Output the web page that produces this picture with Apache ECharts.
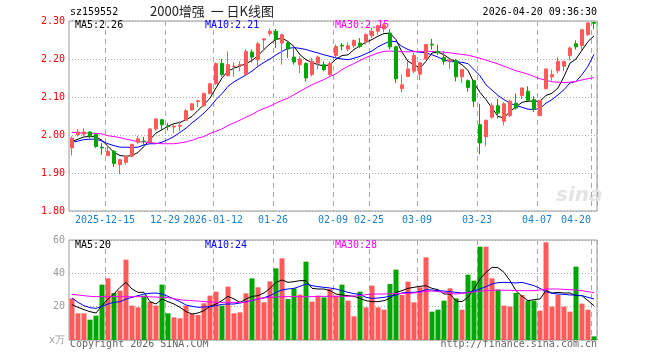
<!DOCTYPE html>
<html><head><meta charset="utf-8">
<script src="https://cdn.jsdelivr.net/npm/echarts/dist/echarts.min.js"></script>
<style>html,body{margin:0;padding:0;background:#fff}#c{width:660px;height:360px}</style>
</head><body><div id="c"></div>
<script>
const categories = [
'2025-12-05','2025-12-08','2025-12-09','2025-12-10','2025-12-11','2025-12-12',
'2025-12-15','2025-12-16','2025-12-17','2025-12-18','2025-12-19',
'2025-12-22','2025-12-23','2025-12-24','2025-12-25','2025-12-26',
'2025-12-29','2025-12-30','2025-12-31',
'2026-01-05','2026-01-06','2026-01-07','2026-01-08','2026-01-09',
'2026-01-12','2026-01-13','2026-01-14','2026-01-15','2026-01-16',
'2026-01-19','2026-01-20','2026-01-21','2026-01-22','2026-01-23',
'2026-01-26','2026-01-27','2026-01-28','2026-01-29','2026-01-30',
'2026-02-02','2026-02-03','2026-02-04','2026-02-05','2026-02-06',
'2026-02-09','2026-02-10','2026-02-11','2026-02-12','2026-02-13',
'2026-02-24','2026-02-25','2026-02-26','2026-02-27',
'2026-03-02','2026-03-03','2026-03-04','2026-03-05','2026-03-06',
'2026-03-09','2026-03-10','2026-03-11','2026-03-12','2026-03-13',
'2026-03-16','2026-03-17','2026-03-18','2026-03-19','2026-03-20',
'2026-03-23','2026-03-24','2026-03-25','2026-03-26','2026-03-27',
'2026-03-30','2026-03-31','2026-04-01','2026-04-02','2026-04-03',
'2026-04-07','2026-04-08','2026-04-09','2026-04-10',
'2026-04-13','2026-04-14','2026-04-15','2026-04-16','2026-04-17',
'2026-04-20'];

const tickDates  = ['2025-12-15','2025-12-29','2026-01-12','2026-01-26','2026-02-09','2026-02-25','2026-03-09','2026-03-23','2026-04-07','2026-04-20'];
const tickLabels = ['2025-12-15','12-29','2026-01-12','01-26','02-09','02-25','03-09','03-23','04-07','04-20'];

const priceTicks = [1.8, 2.3, 0.1];
const volTicks = [0, 60, 20];

const open = [1.966,2.001,2.002,2.008,2.001,1.968,1.946,1.957,1.922,1.928,
1.944,1.981,1.984,1.981,2.016,2.040,2.024,2.021,2.023,2.039,
2.066,2.088,2.077,2.109,2.135,2.188,2.156,2.180,2.183,2.159,
2.218,2.198,2.250,2.267,2.273,2.242,2.242,2.205,2.185,2.188,
2.159,2.189,2.185,2.159,2.209,2.236,2.226,2.235,2.242,2.246,
2.261,2.273,2.279,2.268,2.232,2.122,2.154,2.168,2.160,2.200,
2.239,2.220,2.204,2.194,2.196,2.153,2.143,2.143,2.027,1.995,
2.047,2.077,2.036,2.051,2.084,2.104,2.115,2.093,2.051,2.122,
2.153,2.169,2.181,2.209,2.240,2.235,2.264,2.296];
const close = [1.992,2.008,2.008,1.997,1.970,1.966,1.957,1.925,1.935,1.944,
1.975,1.990,1.983,2.016,2.042,2.027,2.022,2.023,2.025,2.064,
2.082,2.090,2.109,2.135,2.188,2.159,2.185,2.181,2.185,2.220,
2.205,2.240,2.253,2.273,2.251,2.264,2.226,2.192,2.200,2.150,
2.194,2.205,2.172,2.188,2.233,2.234,2.235,2.249,2.233,2.264,
2.273,2.288,2.290,2.232,2.148,2.132,2.174,2.209,2.190,2.238,
2.237,2.216,2.194,2.198,2.153,2.172,2.125,2.089,1.979,2.039,
2.077,2.058,2.082,2.089,2.071,2.124,2.091,2.067,2.091,2.174,
2.159,2.194,2.194,2.229,2.232,2.277,2.295,2.294];
const low = [1.946,1.996,1.998,1.990,1.966,1.948,1.944,1.916,1.897,1.922,
1.942,1.977,1.972,1.979,2.012,2.012,2.012,2.005,2.010,2.037,
2.064,2.074,2.075,2.107,2.132,2.154,2.154,2.153,2.168,2.157,
2.191,2.182,2.220,2.260,2.229,2.185,2.203,2.185,2.163,2.141,
2.154,2.172,2.168,2.154,2.205,2.223,2.220,2.229,2.229,2.238,
2.255,2.264,2.270,2.225,2.137,2.112,2.153,2.163,2.144,2.198,
2.225,2.211,2.185,2.174,2.141,2.137,2.114,2.074,1.950,1.970,
2.043,2.043,2.025,2.047,2.067,2.095,2.089,2.060,2.049,2.120,
2.143,2.163,2.168,2.196,2.225,2.223,2.261,2.279];
const high = [1.996,2.016,2.018,2.010,2.003,1.979,1.975,1.960,1.937,1.946,
1.977,1.998,1.995,2.018,2.045,2.042,2.032,2.030,2.036,2.068,
2.084,2.093,2.112,2.137,2.191,2.200,2.220,2.191,2.194,2.226,
2.225,2.245,2.255,2.280,2.279,2.266,2.246,2.229,2.207,2.191,
2.203,2.209,2.194,2.194,2.238,2.242,2.244,2.251,2.255,2.268,
2.282,2.290,2.295,2.279,2.235,2.159,2.194,2.216,2.193,2.238,
2.253,2.238,2.220,2.200,2.200,2.172,2.146,2.145,2.082,2.040,
2.084,2.095,2.086,2.093,2.109,2.124,2.128,2.102,2.093,2.174,
2.172,2.205,2.194,2.233,2.249,2.279,2.296,2.298];

const ma5 = [1.983,1.989,1.995,1.996,1.995,1.986,1.970,1.954,1.946,1.944,
1.946,1.954,1.970,1.988,2.005,2.014,2.023,2.030,2.033,2.040,
2.049,2.065,2.080,2.097,2.124,2.150,2.168,2.176,2.181,2.188,
2.196,2.209,2.225,2.240,2.251,2.255,2.246,2.233,2.211,2.198,
2.191,2.185,2.182,2.185,2.200,2.209,2.211,2.225,2.235,2.244,
2.251,2.260,2.267,2.268,2.251,2.218,2.194,2.185,2.176,2.194,
2.216,2.218,2.211,2.200,2.194,2.185,2.170,2.137,2.112,2.093,
2.071,2.049,2.045,2.062,2.074,2.086,2.089,2.089,2.089,2.104,
2.110,2.124,2.154,2.189,2.200,2.223,2.246,2.261];
const ma10 = [1.981,1.984,1.988,1.989,1.989,1.984,1.977,1.972,1.968,1.968,
1.967,1.968,1.974,1.977,1.977,1.981,1.988,1.996,2.007,2.018,
2.032,2.044,2.058,2.074,2.093,2.109,2.128,2.140,2.149,2.158,
2.168,2.181,2.191,2.200,2.211,2.220,2.228,2.230,2.228,2.225,
2.220,2.216,2.211,2.207,2.203,2.200,2.198,2.202,2.207,2.214,
2.221,2.232,2.240,2.247,2.246,2.233,2.225,2.220,2.218,2.216,
2.211,2.205,2.198,2.193,2.193,2.191,2.188,2.172,2.156,2.132,
2.118,2.104,2.093,2.084,2.077,2.073,2.068,2.067,2.070,2.084,
2.093,2.106,2.119,2.137,2.141,2.159,2.181,2.212];
const ma30 = [2.007,2.006,2.005,2.005,2.004,2.003,1.998,1.996,1.993,1.989,
1.986,1.982,1.982,1.980,1.978,1.977,1.977,1.977,1.979,1.982,
1.986,1.992,1.996,2.004,2.010,2.016,2.025,2.032,2.039,2.047,
2.054,2.063,2.070,2.076,2.084,2.091,2.097,2.106,2.115,2.124,
2.132,2.139,2.146,2.154,2.161,2.172,2.181,2.188,2.196,2.204,
2.210,2.216,2.220,2.221,2.220,2.219,2.219,2.219,2.220,2.220,
2.220,2.219,2.218,2.216,2.214,2.212,2.210,2.206,2.202,2.197,
2.192,2.187,2.181,2.175,2.169,2.165,2.160,2.154,2.148,2.144,
2.140,2.139,2.138,2.139,2.141,2.145,2.148,2.151];

const volume = [25.0,16,16,12.2,14.6,33.2,37,28.2,29.6,48.2,
20.6,19.6,26.6,23,20.6,33.2,16,13.6,13,20.6,
15.6,15,22,26.6,29,20.6,32,16,16.6,28,
37,31.6,22.6,35.2,43,49,24.6,31,27.2,47,
23,26.6,25.6,30.6,26.6,33.2,23.6,14.2,29,19.6,
32.6,19.6,18.2,33.6,42.2,27,35,22.6,31.6,49.6,
17,18.2,23.6,31,25,18.2,39.2,35.6,56,56,
37,30.2,20.6,20,28.2,27,23.6,23.6,17.6,58.6,
20,27,20,17,44,21.8,18.2,2.2];
const volMa5 = [21.2,19.6,18.2,17,16.2,20.6,24.6,27.6,31.6,34.6,
30.6,28.6,28.6,23,21.6,24.6,23,21.6,19.6,17,
15.6,16.2,17.6,20.2,21.6,23.6,26.2,24.6,22.6,24.6,
26.2,26.6,28.2,31,34.6,36,34.6,35,35.6,35.6,
31,30.6,30.6,29.6,27.6,27,26.6,26.2,25,23.6,
23,23,23.6,25,28.6,29.6,31,31.6,32.2,32.6,
31,30.2,27.6,27.6,23.4,23,25.6,30.6,36.6,40.6,
43.6,43.4,40.6,35.6,29.6,26.2,23.6,24.2,24.6,29.6,
28.2,28.6,28.2,28.2,26.6,26.6,23.6,20.6];
const volMa10 = [25.2,22.6,20.6,19.4,19,20.2,21.6,22.6,23,24.6,
25.6,26.6,27.6,28,28.2,27.6,26.2,24.6,23,21,
20.2,19.6,19.8,20,20.6,21.4,21.6,21.6,22.2,23,
23.6,24.6,25.4,26.6,28.6,30,30.6,31,32.2,33.6,
32.6,32,31.6,31.2,30.6,29.6,28.6,27.8,27.4,25.6,
25,25.2,25.6,26.2,27,28.2,28.6,28.6,29,30.2,
30,29.6,29.4,29,28.6,28.2,28.6,29.4,30.6,32,
33.6,34.4,34.6,34.4,34.2,34.6,33.6,32.6,31,29,
28,27.6,27.4,27,27,26.6,25.6,24.6];
const volMa30 = [27.4,27,26.6,26.2,26,26,26,26,26,26,
26,26,26,25.9,25.8,25.6,25.4,24.8,24.2,23.8,
23.6,23.4,23,22.8,22.6,22.6,22.6,22.6,22.4,22.6,
23.8,24.6,25.2,25.6,25.8,26,26,26,26,26,
26,26.2,26.2,26.2,26.2,26.2,26.2,26.4,26.6,27.2,
27.6,27.6,27.6,27.8,27.8,28,28,28.2,28.6,29.2,
29.4,29,28.6,28,27.6,28,28.4,28.8,29.4,29.6,
29.8,30,29.8,29.8,29.6,29.6,29.6,29.6,30,30.6,
30.6,30.6,30.4,30.2,30,29.6,29,28.4];

const RED = '#ff5a5a', GREEN = '#00a600';
const MONO = '"DejaVu Sans Mono", "Liberation Mono", monospace';
const GRIDC = '#aaaaaa';

const tickMap = {};
tickDates.forEach((d, k) => { tickMap[d] = tickLabels[k]; });
const tickSet = new Set(tickDates.map(d => categories.indexOf(d)));
const lastIdx = categories.length - 1;

const ohlc = categories.map((_, i) => [open[i], close[i], low[i], high[i]]);
const volData = volume.map((v, i) => ({ value: v, itemStyle: { color: close[i] >= open[i] ? RED : GREEN } }));

const last = a => a[a.length - 1];
const fmtP = v => v.toFixed(2);
const fmtV = v => String(Math.floor(v));

function maLine(data, color, xi, yi) {
  return { type: 'line', data: data, xAxisIndex: xi, yAxisIndex: yi, symbol: 'none', smooth: false,
    lineStyle: { width: 1, color: color }, itemStyle: { color: color }, silent: true, z: 3 };
}

const xCommon = {
  type: 'category', data: categories, boundaryGap: true,
  axisLine: { show: false }, axisTick: { show: false },
  splitLine: { show: true, interval: (i) => tickSet.has(i), lineStyle: { color: GRIDC, width: 1, type: [5, 4] } }
};

const chart = echarts.init(document.getElementById('c'), null, { renderer: 'canvas' });
chart.setOption({
  animation: false,
  backgroundColor: '#ffffff',
  grid: [
    { left: 69, top: 21, width: 528, height: 190, show: true, borderColor: '#999', borderWidth: 1, backgroundColor: 'transparent', containLabel: false },
    { left: 69, top: 240, width: 528, height: 100, show: true, borderColor: '#999', borderWidth: 1, backgroundColor: 'transparent', containLabel: false }
  ],
  xAxis: [
    Object.assign({}, xCommon, { gridIndex: 0,
      axisLabel: { show: true, interval: (i) => tickSet.has(i), hideOverlap: false,
        formatter: (v) => (categories.indexOf(v) === lastIdx ? '{e|' + tickMap[v] + '}' : tickMap[v]),
        color: '#1a7fd0', fontFamily: MONO, fontSize: 10, margin: 4, padding: [0, 6, 0, 0],
        rich: { e: { color: '#1a7fd0', fontFamily: MONO, fontSize: 10, padding: [0, 30, 0, 0] } } } }),
    Object.assign({}, xCommon, { gridIndex: 1, axisLabel: { show: false } })
  ],
  yAxis: [
    { type: 'value', gridIndex: 0, min: priceTicks[0], max: priceTicks[1], interval: priceTicks[2],
      axisLine: { show: false }, axisTick: { show: false },
      axisLabel: { color: '#ff0000', fontFamily: MONO, fontSize: 10, margin: 4, formatter: fmtP },
      splitLine: { show: true, lineStyle: { color: GRIDC, width: 1, type: [1, 2] } } },
    { type: 'value', gridIndex: 1, min: volTicks[0], max: volTicks[1], interval: volTicks[2],
      axisLine: { show: false }, axisTick: { show: false },
      axisLabel: { color: '#999', fontFamily: MONO, fontSize: 10, margin: 4, formatter: (v) => (v === 0 ? 'x万' : String(v)) },
      splitLine: { show: true, lineStyle: { color: GRIDC, width: 1, type: [1, 2] } } }
  ],
  series: [
    { type: 'candlestick', xAxisIndex: 0, yAxisIndex: 0, data: ohlc, barWidth: 4, z: 4,
      itemStyle: { color: RED, color0: GREEN, borderColor: RED, borderColor0: GREEN, borderWidth: 1 } },
    maLine(ma5, '#000000', 0, 0),
    maLine(ma10, '#0000ff', 0, 0),
    maLine(ma30, '#ff00ff', 0, 0),
    { type: 'bar', xAxisIndex: 1, yAxisIndex: 1, data: volData, barWidth: 5, z: 2 },
    maLine(volMa5, '#000000', 1, 1),
    maLine(volMa10, '#0000ff', 1, 1),
    maLine(volMa30, '#ff00ff', 1, 1)
  ],
  graphic: [
    { type: 'text', left: 70, top: 7, style: { text: 'sz159552', font: '10px ' + MONO, fill: '#000' } },
    { type: 'text', left: 150, top: 5, style: { text: '2000增强  一 日K线图', font: '13px "Noto Sans CJK SC"', fill: '#222' } },
    { type: 'text', right: 63, top: 7, style: { text: '2026-04-20 09:36:30', font: '10px ' + MONO, fill: '#000' } },
    { type: 'text', left: 75, top: 20, z: 1, style: { text: 'MA5:' + fmtP(last(ma5)), font: '10px ' + MONO, fill: '#000' } },
    { type: 'text', left: 205, top: 20, z: 1, style: { text: 'MA10:' + fmtP(last(ma10)), font: '10px ' + MONO, fill: '#0000ff' } },
    { type: 'text', left: 335, top: 20, z: 1, style: { text: 'MA30:' + fmtP(last(ma30)), font: '10px ' + MONO, fill: '#ff00ff' } },
    { type: 'text', left: 75, top: 240, z: 1, style: { text: 'MA5:' + fmtV(last(volMa5)), font: '10px ' + MONO, fill: '#000' } },
    { type: 'text', left: 205, top: 240, z: 1, style: { text: 'MA10:' + fmtV(last(volMa10)), font: '10px ' + MONO, fill: '#0000ff' } },
    { type: 'text', left: 335, top: 240, z: 1, style: { text: 'MA30:' + fmtV(last(volMa30)), font: '10px ' + MONO, fill: '#ff00ff' } },
    { type: 'text', left: 556, top: 186, z: 0, style: { text: 'sina', font: 'italic bold 20px "DejaVu Sans"', fill: '#e4e4e4' } },
    { type: 'text', left: 70, top: 339, style: { text: 'Copyright 2026 SINA.COM', font: '10px ' + MONO, fill: '#666' } },
    { type: 'text', right: 63, top: 339, style: { text: 'http://finance.sina.com.cn', font: '10px ' + MONO, fill: '#666' } }
  ]
});
</script>
</body></html>
